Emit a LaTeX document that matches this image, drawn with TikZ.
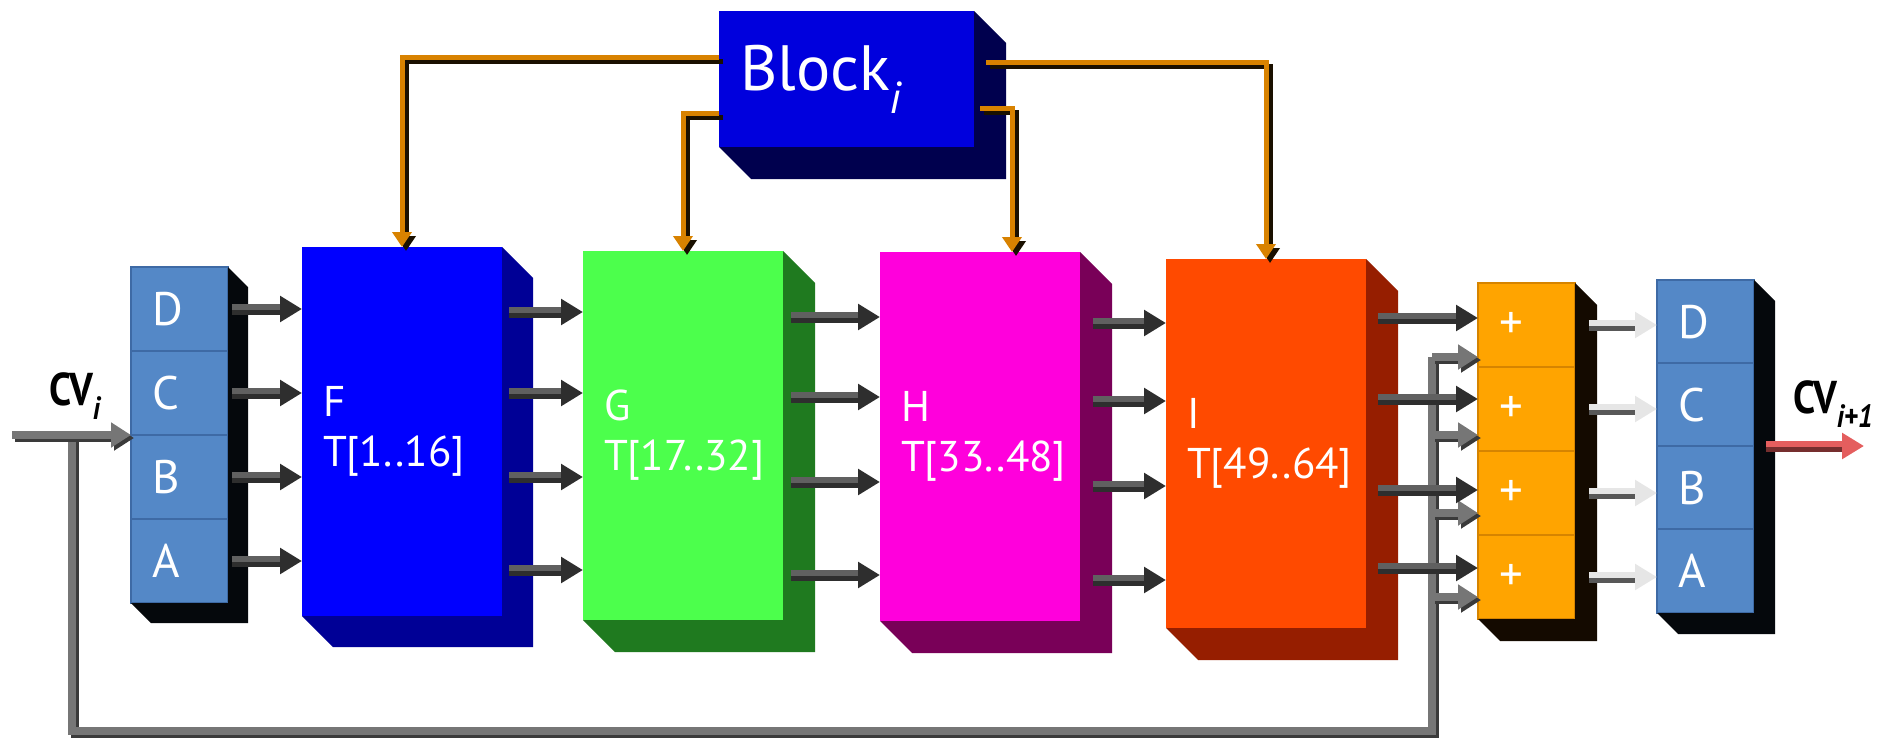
\documentclass[tikz,border=0pt]{standalone}
\usepackage{fontspec}
\setmainfont{PT Sans}
\newfontfamily\cvfont[FakeStretch=0.86]{PT Sans}
\usetikzlibrary{arrows.meta}

\definecolor{Reg}{RGB}{84,136,199}
\definecolor{RegEdge}{RGB}{62,106,165}
\definecolor{RegSide}{RGB}{5,8,12}
\definecolor{Add}{RGB}{255,164,0}
\definecolor{AddEdge}{RGB}{214,132,0}
\definecolor{AddSide}{RGB}{20,10,0}
\definecolor{Fc}{RGB}{0,0,255}   \definecolor{Fs}{RGB}{0,0,150}
\definecolor{Gc}{RGB}{76,255,76} \definecolor{Gs}{RGB}{31,122,31}
\definecolor{Hc}{RGB}{255,0,220} \definecolor{Hs}{RGB}{121,0,88}
\definecolor{Ic}{RGB}{255,74,0}  \definecolor{Is}{RGB}{150,30,0}
\definecolor{Kc}{RGB}{0,0,221}   \definecolor{Ks}{RGB}{0,0,78}
\definecolor{Ctl}{RGB}{216,130,0}
\definecolor{CtlShade}{RGB}{26,16,0}
\definecolor{ArrDark}{RGB}{46,46,46}
\definecolor{ArrLite}{RGB}{96,96,96}
\definecolor{Fb}{RGB}{118,118,118}
\definecolor{FbShade}{RGB}{58,58,58}
\definecolor{Out}{RGB}{230,230,230}
\definecolor{OutShade}{RGB}{88,88,88}
\definecolor{Nxt}{RGB}{228,94,94}
\definecolor{NxtShade}{RGB}{118,46,46}

% side of a box (or of a stack of cells), pushed out down and to the right
\newcommand{\extrude}[4]{%
  \fill[#4] (#1.north east) -- ++(#3,#3) -- ([shift={(#3,#3)}]#2.south east)
    -- ([shift={(#3,#3)}]#2.south west) -- (#2.south west) -- (#2.south east) -- cycle;}

\tikzset{
  face/.style={anchor=north west, inner ysep=0, inner xsep=21pt, outer sep=0, align=left, text=white},
  stage/.style={face, minimum width=200pt, minimum height=369pt, text width=158pt, font=\fontsize{43}{50}\selectfont},
  msg/.style={face, minimum width=255pt, minimum height=136pt, text width=213pt, font=\fontsize{64}{64}\selectfont},
  cell/.style={face, minimum width=97pt, minimum height=84pt, text width=55pt, line width=1.5pt, font=\fontsize{47}{47}\selectfont},
  % dark body with a lighter top strip
  tube/.style 2 args={draw=#1, line width=11pt, -{Triangle[length=22pt,width=25pt]},
    postaction={draw=#2, line width=6pt, -, shorten >=22pt, transform canvas={yshift=2.5pt}}},
  % light body with a darker bottom strip
  tubelite/.style 2 args={draw=#1, line width=11pt, -{Triangle[length=22pt,width=25pt]},
    postaction={draw=#2, line width=5pt, -, shorten >=22pt, transform canvas={yshift=-3pt}}},
  arr/.style={tube={ArrDark}{ArrLite}},
  outarr/.style={tubelite={Out}{OutShade}},
  nxt/.style={tubelite={Nxt}{NxtShade}},
  ctl/.style={draw=Ctl, line width=5pt, -{Triangle[length=15pt,width=19pt]},
    preaction={draw=CtlShade, line width=5pt, transform canvas={shift={(4pt,-4pt)}}}},
  fb/.style={draw=Fb, line width=8pt, line join=miter,
    preaction={draw=FbShade, line width=8pt, transform canvas={shift={(3pt,-3pt)}}}},
  fbarr/.style={fb, -{Triangle[length=20pt,width=24pt]}},
  cv/.style={anchor=base west, font=\fontsize{46}{46}\selectfont\cvfont\bfseries}
}

\begin{document}
\begin{tikzpicture}[x=1pt,y=-1pt]
  \useasboundingbox (0,0) rectangle (1894,739);

  % message block
  \node[msg, fill=Kc] (blk) at (719,11) {Block\textsubscript{\itshape i}};
  \extrude{blk}{blk}{32}{Ks}

  % the four rounds
  \node[stage, fill=Fc] (F) at (302,247) {F\\T[1..16]};
  \extrude{F}{F}{31}{Fs}
  \node[stage, fill=Gc] (G) at (583,251) {G\\T[17..32]};
  \extrude{G}{G}{32}{Gs}
  \node[stage, fill=Hc] (H) at (880,252) {H\\T[33..48]};
  \extrude{H}{H}{32}{Hs}
  \node[stage, fill=Ic] (I) at (1166,259) {I\\T[49..64]};
  \extrude{I}{I}{32}{Is}

  % registers in, adders, registers out
  \foreach \t [count=\i from 0] in {D,C,B,A}{
    \node[cell, fill=Reg, draw=RegEdge] (l\t) at (131,{267+84*\i}) {\t};
    \node[cell, fill=Add, draw=AddEdge] (s\t) at (1478,{283+84*\i}) {+};
    \node[cell, fill=Reg, draw=RegEdge] (r\t) at (1657,{280+83*\i}) {\t};
  }
  \extrude{lD}{lA}{20}{RegSide}
  \extrude{sD}{sA}{22}{AddSide}
  \extrude{rD}{rA}{21}{RegSide}

  % chaining value fed forward to the adders
  \coordinate (cvin) at (12,435);
  \coordinate (tee) at (72,435);
  \coordinate (back) at (1432,731);
  \draw[fb] (tee) |- (back) -- (back |- 0,357);
  \draw[fbarr] (cvin) -- (lB.north west |- cvin);
  \foreach \t/\y in {D/357,C/435,B/513,A/597}
    \draw[fbarr] (back |- 0,\y) -- (s\t.west |- 0,\y);

  % words passed from stage to stage
  \foreach \t in {D,C,B,A}
    \draw[arr] (l\t.east) ++(4,0) -- (F.west |- l\t.east);
  \foreach \y in {312,393,477,570}
    \draw[arr] (F.east |- 0,\y) ++(7,0) -- (G.west |- 0,\y);
  \foreach \y in {317,397,482,575}
    \draw[arr] (G.east |- 0,\y) ++(8,0) -- (H.west |- 0,\y);
  \foreach \y in {323,401,486,580}
    \draw[arr] (H.east |- 0,\y) ++(13,0) -- (I.west |- 0,\y);
  \foreach \t/\y in {D/318,C/399,B/490,A/568}
    \draw[arr] (I.east |- 0,\y) ++(12,0) -- (s\t.west |- 0,\y);
  \foreach \t in {D,C,B,A}
    \draw[outarr] (s\t.east) ++(14,0) -- (r\t.west |- s\t.east);

  \coordinate (cvout) at (1864,448);
  \draw[nxt] (rB.north east) ++(12,0) -- (cvout |- rB.north east);

  % message words into each round
  \path (blk.east |- 0,62) ++(12,0) coordinate (kI);
  \path (blk.east |- 0,108) ++(6,0) coordinate (kH);
  \coordinate (hin) at ([xshift=32pt]H.north);
  \draw[ctl] (blk.west |- 0,57) -| (F.north);
  \draw[ctl] (blk.west |- 0,113) -| (G.north);
  \draw[ctl] (kH) -| (hin);
  \draw[ctl] (kI) -| (I.north);

  \node[cv] (cvi) at (46,405) {CV\textsubscript{\itshape i}};
  \node[cv] (cvo) at (1790,413) {CV\textsubscript{\itshape i+1}};
\end{tikzpicture}
\end{document}
